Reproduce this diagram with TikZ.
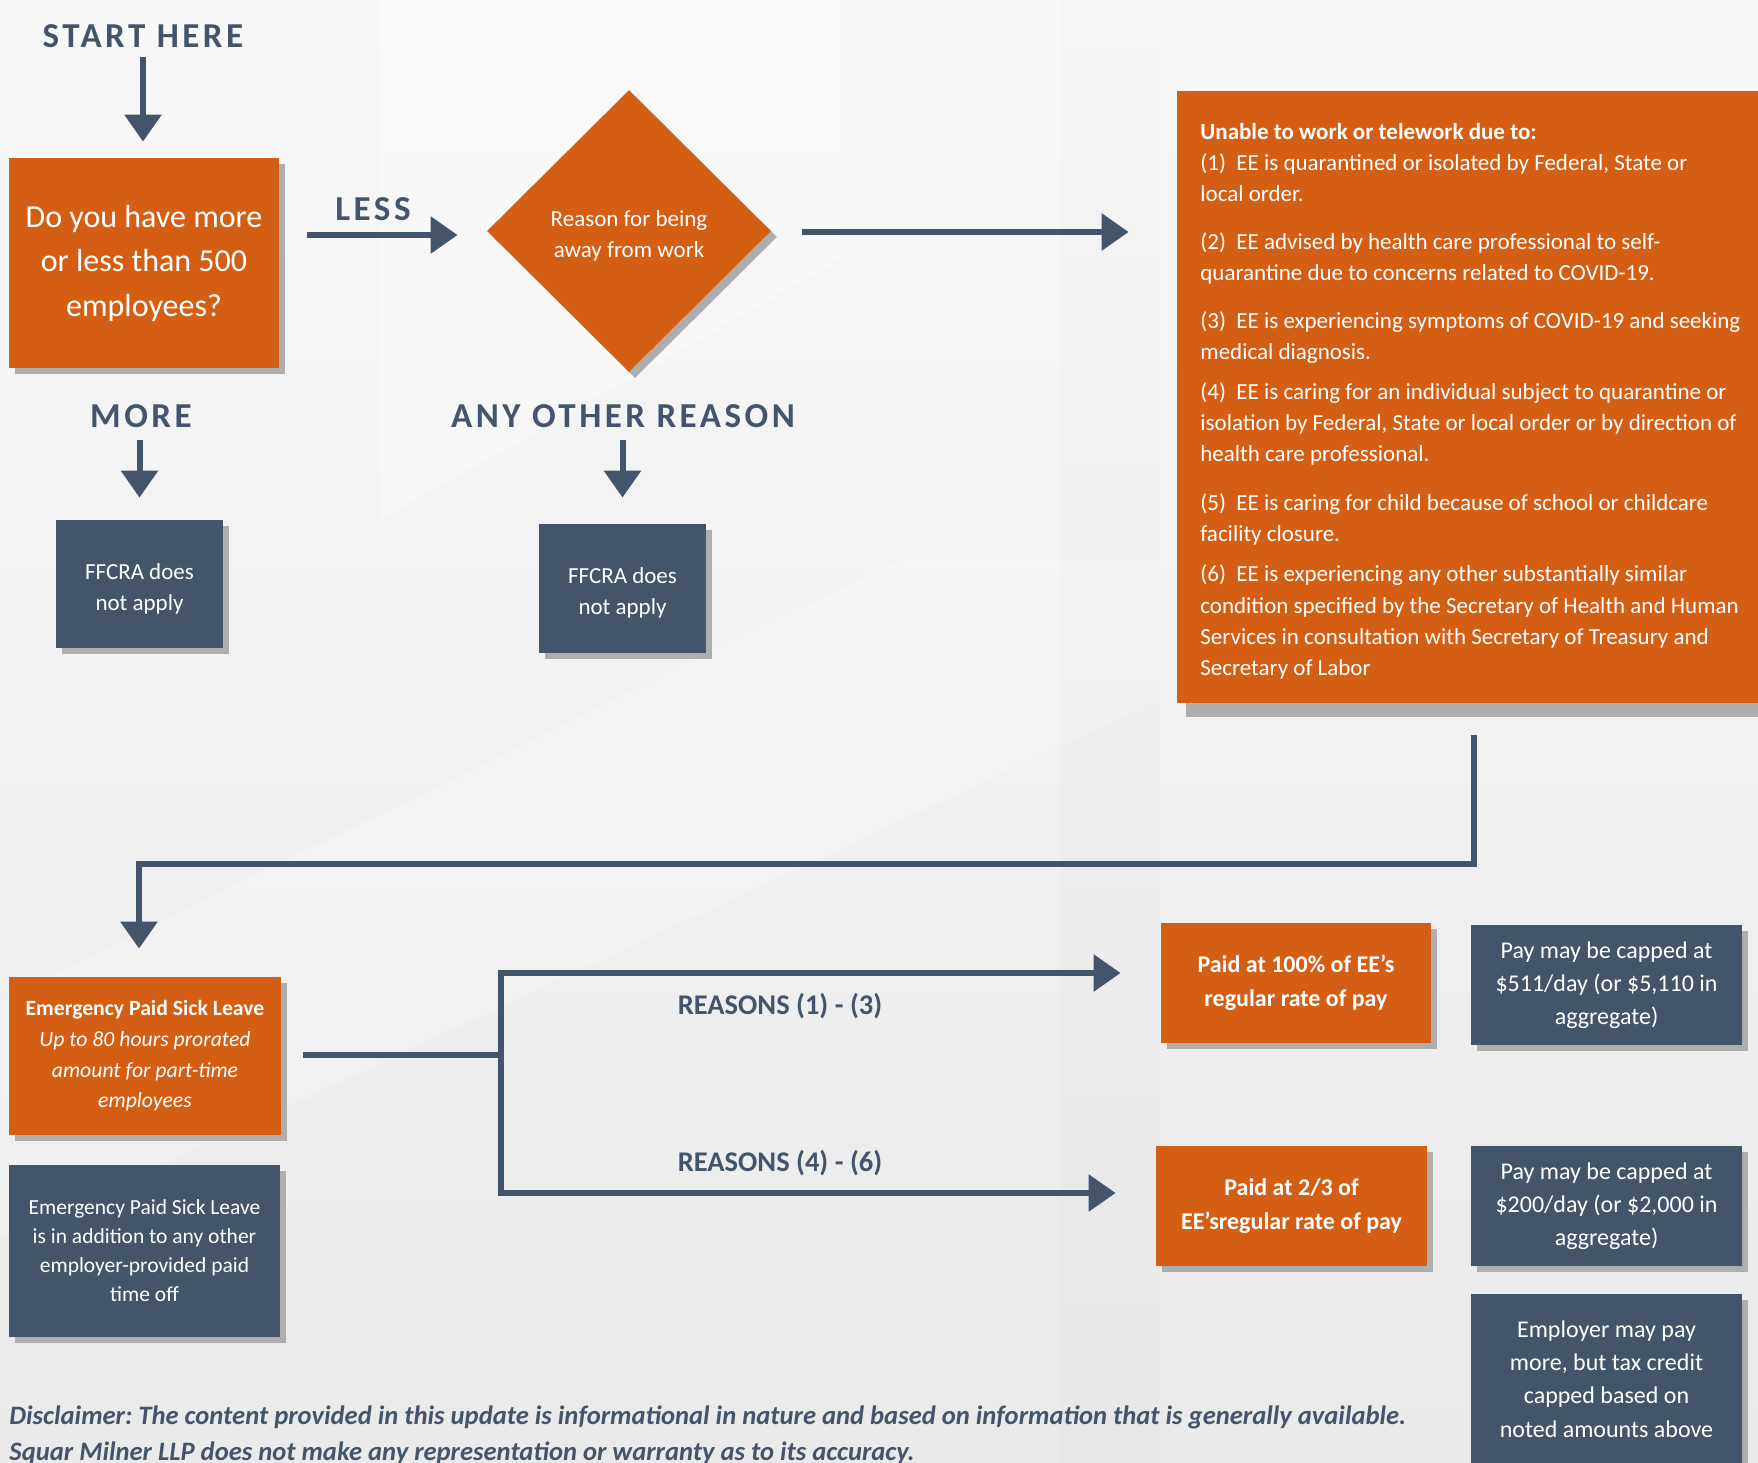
\documentclass[tikz,border=0pt]{standalone}
\usepackage{fontspec}
\setmainfont{Carlito}
\newfontfamily\trackfont[LetterSpace=10]{Carlito}
\usetikzlibrary{positioning,shapes.geometric,calc,shadows,arrows.meta}

\definecolor{sqorange}{HTML}{D35E14}
\definecolor{sqslate}{HTML}{44546A}
\definecolor{sqshadow}{HTML}{AEAEAE}
\definecolor{bgtop}{HTML}{F8F8F8}
\definecolor{bgbottom}{HTML}{EAEAEA}

\begin{document}
\frenchspacing
\begin{tikzpicture}[x=0.5pt,y=-0.5pt]
	\tikzset{panel/.style={rectangle, inner sep=0pt, text=white, align=center}}
	\tikzset{softshadow/.style={general shadow={fill=sqshadow, shadow xshift=3pt, shadow yshift=-3pt}}}
	\tikzset{orangebox/.style={panel, softshadow, fill=sqorange}}
	\tikzset{slatebox/.style={panel, softshadow, fill=sqslate}}
	\tikzset{heading/.style={anchor=base, inner sep=0pt, text=sqslate, font=\trackfont\bfseries\fontsize{17.5pt}{21pt}\selectfont}}
	\tikzset{reasonlabel/.style={anchor=base, inner sep=0pt, text=sqslate, font=\bfseries\fontsize{14.25pt}{17pt}\selectfont}}
	\tikzset{arrowline/.style={draw=sqslate, line width=3pt, -{Triangle[width=18pt,length=13.5pt]}}}
	\tikzset{plainline/.style={draw=sqslate, line width=3pt}}
	
	\newcommand\drawBox[7] % {style} {x} {y} {width} {height} {name} {text}
	{
		\node[#1, minimum width=#4*0.5pt, minimum height=#5*0.5pt] at (#2, #3) (#6) {#7};
	}
	\newcommand\lowstrut{\rule{0pt}{12.5pt}}
	
	% page and background
	\useasboundingbox (0,0) rectangle (1758,1463);
	\clip (0,0) rectangle (1758,1463);
	\shade[top color=bgtop, bottom color=bgbottom] (0,0) rectangle (1758,1463);
	\fill[white, opacity=0.3] (380,0) -- (840,0) -- (840,260) -- (380,520) -- cycle;
	\fill[white, opacity=0.2] (0,1000) -- (900,560) -- (1160,560) -- (1160,700) -- (0,1240) -- cycle;
	\fill[black, opacity=0.012] (1060,0) -- (1160,0) -- (1160,1463) -- (1060,1463) -- cycle;
	
	% first question
	\node[heading] at (143,47) (start) {START HERE};
	\drawBox{orangebox, font=\fontsize{16pt}{22.25pt}\selectfont}{144}{263}{270}{210}{question}{Do you have more\\or less than 500\\employees?}
	
	\node[heading] at (373,220) (less) {LESS};
	\node[diamond, fill=sqorange, text=white, inner sep=0pt, align=center,
		minimum width=142pt, minimum height=141pt, softshadow,
		font=\fontsize{11.5pt}{15.5pt}\selectfont] at (629,231) (reason) {\lowstrut Reason for being\\away from work};
	
	\node[heading] at (141,427) (more) {MORE};
	\node[heading] at (623,427) (other) {ANY OTHER REASON};
	\drawBox{slatebox, font=\fontsize{11.5pt}{15.5pt}\selectfont}{139.5}{584}{167}{128}{ffcraA}{\lowstrut FFCRA does\\not apply}
	\drawBox{slatebox, font=\fontsize{11.5pt}{15.5pt}\selectfont}{622.5}{588.5}{167}{129}{ffcraB}{\lowstrut FFCRA does\\not apply}
	
	% list of qualifying reasons
	\node[panel, fill=sqorange, minimum width=296.5pt, minimum height=306pt,
		general shadow={fill=sqshadow, shadow xshift=4.5pt, shadow yshift=-7pt}] at (1473.5,397) (unable) {};
	\node[anchor=north west, inner sep=0pt, text=white, align=left,
		font=\fontsize{11.5pt}{15.6pt}\selectfont] at (1200,123) (reasonlist)
		{\textbf{Unable to work or telework due to:}\\
		(1)\ \ EE is quarantined or isolated by Federal, State or\\
		local order.\\[8.25pt]
		(2)\ \ EE advised by health care professional to self-\\
		quarantine due to concerns related to COVID-19.\\[8pt]
		(3)\ \ EE is experiencing symptoms of COVID-19 and seeking\\
		medical diagnosis.\\[4.5pt]
		(4)\ \ EE is caring for an individual subject to quarantine or\\
		isolation by Federal, State or local order or by direction of\\
		health care professional.\\[8.5pt]
		(5)\ \ EE is caring for child because of school or childcare\\
		facility closure.\\[4.75pt]
		(6)\ \ EE is experiencing any other substantially similar\\
		condition specified by the Secretary of Health and Human\\
		Services in consultation with Secretary of Treasury and\\
		Secretary of Labor};
	
	% paid sick leave
	\drawBox{orangebox, font=\fontsize{10.85pt}{15.35pt}\selectfont}{145}{1056}{272}{158}{epsl}{\textbf{Emergency Paid Sick Leave}\\\textit{Up to 80 hours prorated}\\\textit{amount for part-time}\\\textit{employees}}
	\drawBox{slatebox, font=\fontsize{10.75pt}{14.5pt}\selectfont}{144.5}{1251}{271}{172}{extra}{Emergency Paid Sick Leave\\is in addition to any other\\employer-provided paid\\time off}
	
	\node[reasonlabel] at (780,1014) (rfirst) {REASONS (1) - (3)};
	\node[reasonlabel] at (780,1171) (rsecond) {REASONS (4) - (6)};
	
	\drawBox{orangebox, font=\bfseries\fontsize{12pt}{17pt}\selectfont}{1296}{983}{270}{120}{full}{Paid at 100\% of EE’s\\regular rate of pay}
	\drawBox{orangebox, font=\bfseries\fontsize{12pt}{17pt}\selectfont}{1291.5}{1206}{271}{120}{twothirds}{Paid at 2/3 of\\EE’sregular rate of pay}
	\drawBox{slatebox, font=\fontsize{12pt}{16.5pt}\selectfont}{1606.5}{985}{271}{120}{capA}{Pay may be capped at\\\$511/day (or \$5,110 in\\aggregate)}
	\drawBox{slatebox, font=\fontsize{12pt}{16.5pt}\selectfont}{1606.5}{1206}{271}{120}{capB}{Pay may be capped at\\\$200/day (or \$2,000 in\\aggregate)}
	\drawBox{slatebox, font=\fontsize{12pt}{16.6pt}\selectfont}{1606.5}{1379}{271}{170}{morepay}{Employer may pay\\more, but tax credit\\capped based on\\noted amounts above}
	
	\node[anchor=north west, inner sep=0pt, text=sqslate, align=left,
		font=\bfseries\itshape\fontsize{13.3pt}{18pt}\selectfont] at (9,1405) (disclaimer)
		{Disclaimer: The content provided in this update is informational in nature and based on information that is generally available.\\
		Squar Milner LLP does not make any representation or warranty as to its accuracy.};
	
	% connectors
	\draw[arrowline] ($(start.base)+(0,10)$) -- ($(question.north)+(-1,-16)$);
	\draw[arrowline] ($(question.east)+(28,-28)$) -- ($(reason.west)+(-29,4)$);
	\draw[arrowline] ($(reason.east)+(31,1)$) -- ($(reason.east -| unable.west)+(-48,1)$);
	\draw[arrowline] ($(ffcraA.north)+(0,-80)$) -- ($(ffcraA.north)+(0,-22)$);
	\draw[arrowline] ($(ffcraB.north)+(0,-84)$) -- ($(ffcraB.north)+(0,-26)$);
	
	\coordinate (elbow) at (139,864);
	\draw[arrowline] ($(unable.south)+(0,32)$) |- (elbow) -- ($(elbow |- epsl.north)+(0,-28)$);
	
	\coordinate (fork) at (501,1055);
	\draw[plainline] ($(epsl.east)+(22,-1)$) -- (fork);
	\draw[arrowline] (fork) |- ($(full.west)+(-40,-10)$);
	\draw[arrowline] (fork) |- ($(twothirds.west)+(-40,-13)$);
	
\end{tikzpicture}
\end{document}
